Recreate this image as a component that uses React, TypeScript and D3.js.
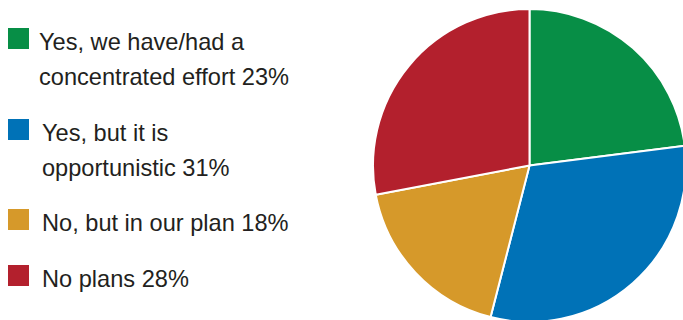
import React from "react";
import * as d3 from "d3";

const categories = ["Yes, we have/had a concentrated effort", "Yes, but it is opportunistic", "No, but in our plan", "No plans"];
const values = [23, 31, 18, 28];
const colors = ["#078e46", "#0072b7", "#d6992a", "#b3202d"];
const labelLines = [
  ["Yes, we have/had a", "concentrated effort 23%"],
  ["Yes, but it is", "opportunistic 31%"],
  ["No, but in our plan 18%"],
  ["No plans 28%"],
];

const W = 683, H = 320;
const cx = 529.5, cy = 165.5, R = 156.5;
const legendTop = [28, 119, 209, 265];
const legendTextX = [39, 42, 42, 42];

export default function App() {
  const pie = d3.pie<number>().sort(null).value((d) => d)(values);
  const arc = d3.arc<d3.PieArcDatum<number>>().innerRadius(0).outerRadius(R);
  return (
    <svg width={W} height={H} style={{ position: "fixed", left: 0, top: 0, background: "#fff" }}
      fontFamily="'Liberation Sans', Arial, sans-serif">
      <rect width={W} height={H} fill="#fff" />
      <g transform={`translate(${cx},${cy})`}>
        {pie.map((p, i) => (
          <path key={categories[i]} d={arc(p) || ""} fill={colors[i]} stroke="#fff" strokeWidth={2} strokeLinejoin="round" />
        ))}
      </g>
      {categories.map((c, i) => (
        <g key={c}>
          <rect x={8} y={legendTop[i]} width={21} height={21} fill={colors[i]} />
          {labelLines[i].map((t, j) => (
            <text key={j} x={legendTextX[i]} y={legendTop[i] + 22 + j * 34.5} fontSize={23.6} fill="#231f20">{t}</text>
          ))}
        </g>
      ))}
    </svg>
  );
}
